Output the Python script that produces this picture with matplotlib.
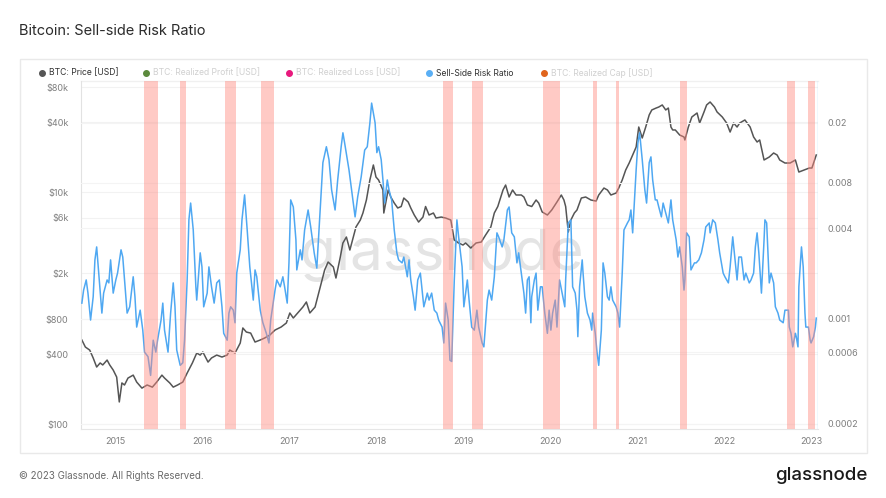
import matplotlib.pyplot as plt
import numpy as np
from matplotlib.patches import Rectangle
from matplotlib.lines import Line2D
from matplotlib.ticker import NullLocator

plt.rcParams['font.family'] = ['Inter', 'DejaVu Sans']

# (decimal year, USD)
price_points = [
    (2014.62, 530), (2014.66, 461), (2014.71, 434), (2014.75, 371), (2014.79, 310), (2014.83, 336),
    (2014.86, 323), (2014.91, 356), (2014.94, 323), (2014.98, 292),
    (2015.02, 254), (2015.05, 155), (2015.08, 226), (2015.11, 217), (2015.15, 249), (2015.21, 264),
    (2015.25, 230), (2015.31, 204), (2015.37, 217), (2015.43, 208), (2015.48, 230), (2015.54, 264),
    (2015.57, 249), (2015.63, 226), (2015.67, 208), (2015.72, 217), (2015.78, 230), (2015.83, 275),
    (2015.89, 336), (2015.94, 409), (2015.98, 393),
    (2016.01, 418), (2016.07, 342), (2016.11, 371), (2016.17, 393), (2016.23, 378), (2016.29, 393),
    (2016.32, 434), (2016.38, 409), (2016.44, 499), (2016.47, 673), (2016.51, 621), (2016.56, 608),
    (2016.61, 509), (2016.67, 530), (2016.72, 551), (2016.78, 585), (2016.84, 646), (2016.91, 686),
    (2016.97, 743),
    (2017.01, 906), (2017.05, 820), (2017.10, 906), (2017.16, 1020), (2017.20, 1127), (2017.24, 906),
    (2017.30, 1020), (2017.36, 1517), (2017.41, 2126), (2017.45, 2492), (2017.51, 2257), (2017.54, 1814),
    (2017.59, 2752), (2017.62, 3635), (2017.66, 4093), (2017.70, 3162), (2017.74, 4093), (2017.77, 4992),
    (2017.82, 5737), (2017.85, 6592), (2017.89, 8534), (2017.93, 12695), (2017.97, 17100),
    (2018.00, 13470), (2018.03, 12695), (2018.08, 10409), (2018.09, 6592), (2018.14, 10409), (2018.17, 9057),
    (2018.21, 8038), (2018.25, 7281), (2018.29, 7500), (2018.32, 8877), (2018.37, 8204), (2018.40, 7281),
    (2018.44, 6336), (2018.49, 5510), (2018.54, 6085), (2018.57, 7500), (2018.61, 6336), (2018.66, 6592),
    (2018.69, 5970), (2018.75, 6085), (2018.80, 5970), (2018.86, 5737), (2018.90, 3857), (2018.95, 3635),
    (2019.00, 3492), (2019.03, 3635), (2019.09, 3290), (2019.15, 3635), (2019.21, 3707), (2019.26, 4259),
    (2019.32, 4992), (2019.36, 6592), (2019.40, 7500), (2019.46, 10409), (2019.49, 11495), (2019.53, 9057),
    (2019.57, 10409), (2019.61, 9425), (2019.67, 9425), (2019.70, 9057), (2019.74, 7727), (2019.79, 7500),
    (2019.84, 8534), (2019.87, 8038), (2019.91, 6730), (2019.97, 6336),
    (2020.02, 6997), (2020.08, 8204), (2020.13, 9425), (2020.16, 8534), (2020.18, 7500), (2020.21, 4519),
    (2020.24, 5737), (2020.28, 6592), (2020.31, 6997), (2020.36, 8877), (2020.41, 9057), (2020.47, 8534),
    (2020.53, 8357), (2020.56, 9425), (2020.62, 10820), (2020.66, 10409), (2020.70, 9425), (2020.76, 9800),
    (2020.79, 10820), (2020.83, 12695), (2020.87, 15484), (2020.91, 17783), (2020.94, 20040), (2020.99, 24430),
    (2021.02, 36330), (2021.06, 29220), (2021.10, 36330), (2021.14, 46152), (2021.17, 50970), (2021.22, 52970),
    (2021.25, 54040), (2021.29, 56290), (2021.33, 50970), (2021.36, 52970), (2021.39, 36330), (2021.41, 34263),
    (2021.44, 34263), (2021.49, 31024), (2021.54, 29800), (2021.55, 28092), (2021.59, 36330), (2021.63, 44330),
    (2021.69, 47990), (2021.72, 39330), (2021.77, 48980), (2021.80, 56290), (2021.84, 59700), (2021.89, 54040),
    (2021.92, 48980), (2021.98, 44330),
    (2022.03, 39330), (2022.07, 32890), (2022.11, 39330), (2022.15, 36330), (2022.18, 39330), (2022.24, 41790),
    (2022.30, 36330), (2022.34, 29800), (2022.38, 26980), (2022.41, 28092), (2022.46, 18885), (2022.52, 20040),
    (2022.57, 21690), (2022.61, 20856), (2022.64, 18885), (2022.70, 17783), (2022.76, 17783), (2022.82, 18885),
    (2022.86, 14870), (2022.92, 15484), (2022.98, 16100),
    (2023.01, 16100), (2023.06, 20856),
]

# (decimal year, ratio)
ssr_points = [
    (2014.62, 0.00127), (2014.64, 0.00155), (2014.67, 0.00181), (2014.69, 0.00148), (2014.72, 0.00098),
    (2014.75, 0.00140), (2014.77, 0.00246), (2014.79, 0.00300), (2014.82, 0.00181), (2014.85, 0.00109),
    (2014.87, 0.00148), (2014.91, 0.00181), (2014.93, 0.00173), (2014.95, 0.00246), (2014.98, 0.00148),
    (2015.01, 0.00181), (2015.03, 0.00201), (2015.07, 0.00287), (2015.09, 0.00257), (2015.11, 0.00181),
    (2015.14, 0.00109), (2015.17, 0.00120), (2015.21, 0.00190), (2015.23, 0.00140), (2015.25, 0.00088),
    (2015.29, 0.00114), (2015.32, 0.00084), (2015.34, 0.00060), (2015.38, 0.00056), (2015.41, 0.00042),
    (2015.44, 0.00072), (2015.47, 0.00060), (2015.49, 0.00072), (2015.53, 0.00098), (2015.55, 0.00127),
    (2015.57, 0.00084), (2015.61, 0.00060), (2015.64, 0.00109), (2015.67, 0.00173), (2015.69, 0.00120),
    (2015.71, 0.00062), (2015.75, 0.00049), (2015.78, 0.00051), (2015.80, 0.00072), (2015.83, 0.00181),
    (2015.85, 0.00454), (2015.87, 0.00587), (2015.90, 0.00389), (2015.93, 0.00163), (2015.94, 0.00133),
    (2015.98, 0.00274),
    (2016.00, 0.00221), (2016.02, 0.00120), (2016.06, 0.00148), (2016.08, 0.00221), (2016.11, 0.00163),
    (2016.14, 0.00127), (2016.17, 0.00173), (2016.20, 0.00181), (2016.23, 0.00120), (2016.25, 0.00080),
    (2016.29, 0.00072), (2016.31, 0.00109), (2016.33, 0.00120), (2016.36, 0.00114), (2016.38, 0.00094),
    (2016.40, 0.00201), (2016.44, 0.00287), (2016.46, 0.00454), (2016.49, 0.00665), (2016.52, 0.00389),
    (2016.55, 0.00221), (2016.59, 0.00133), (2016.61, 0.00211), (2016.63, 0.00190), (2016.67, 0.00114),
    (2016.70, 0.00094), (2016.74, 0.00080), (2016.77, 0.00069), (2016.79, 0.00098), (2016.84, 0.00155),
    (2016.86, 0.00181), (2016.90, 0.00163), (2016.93, 0.00190), (2016.95, 0.00163), (2016.98, 0.00127),
    (2017.00, 0.00235), (2017.02, 0.00616), (2017.05, 0.00553), (2017.08, 0.00334), (2017.09, 0.00211),
    (2017.13, 0.00287), (2017.15, 0.00246), (2017.18, 0.00389), (2017.22, 0.00528), (2017.25, 0.00407),
    (2017.29, 0.00274), (2017.32, 0.00217), (2017.36, 0.00553), (2017.39, 0.0109), (2017.43, 0.0139),
    (2017.46, 0.0114), (2017.49, 0.00718), (2017.53, 0.00528), (2017.56, 0.00836), (2017.60, 0.0139),
    (2017.62, 0.0172), (2017.64, 0.0147), (2017.69, 0.00974), (2017.72, 0.00718), (2017.76, 0.00475),
    (2017.79, 0.00646), (2017.83, 0.00876), (2017.87, 0.0132), (2017.90, 0.0139), (2017.93, 0.0200),
    (2017.95, 0.0271), (2017.99, 0.0200),
    (2018.01, 0.0127), (2018.03, 0.0139), (2018.06, 0.0114), (2018.08, 0.00836), (2018.10, 0.00587),
    (2018.13, 0.00836), (2018.15, 0.00718), (2018.18, 0.00616), (2018.21, 0.00389), (2018.24, 0.00274),
    (2018.26, 0.00246), (2018.30, 0.00235), (2018.32, 0.00257), (2018.36, 0.00190), (2018.38, 0.00246),
    (2018.40, 0.00181), (2018.43, 0.00140), (2018.45, 0.00114), (2018.48, 0.00181), (2018.51, 0.00201),
    (2018.53, 0.00155), (2018.55, 0.00120), (2018.59, 0.00148), (2018.61, 0.00133), (2018.64, 0.00148),
    (2018.67, 0.00114), (2018.70, 0.00109), (2018.72, 0.00098), (2018.76, 0.00088), (2018.78, 0.00069),
    (2018.80, 0.00127), (2018.83, 0.00098), (2018.85, 0.00053), (2018.87, 0.00052), (2018.90, 0.00181),
    (2018.93, 0.00454), (2018.95, 0.00350), (2018.99, 0.00221),
    (2019.01, 0.00120), (2019.05, 0.00181), (2019.07, 0.00133), (2019.10, 0.00088), (2019.13, 0.00084),
    (2019.16, 0.00114), (2019.18, 0.00088), (2019.22, 0.00069), (2019.24, 0.00065), (2019.28, 0.00133),
    (2019.30, 0.00155), (2019.33, 0.00133), (2019.36, 0.00190), (2019.39, 0.00372), (2019.41, 0.00350),
    (2019.45, 0.00300), (2019.47, 0.00334), (2019.51, 0.00528), (2019.53, 0.00553), (2019.56, 0.00372),
    (2019.59, 0.00350), (2019.62, 0.00235), (2019.64, 0.00274), (2019.68, 0.00181), (2019.70, 0.00148),
    (2019.72, 0.00109), (2019.74, 0.00181), (2019.76, 0.00190), (2019.78, 0.00094), (2019.79, 0.00140),
    (2019.82, 0.00181), (2019.84, 0.00201), (2019.86, 0.00114), (2019.89, 0.00163), (2019.91, 0.00163),
    (2019.94, 0.00109), (2019.97, 0.00080), (2019.99, 0.00114),
    (2020.01, 0.00084), (2020.03, 0.00109), (2020.06, 0.00133), (2020.08, 0.00088), (2020.11, 0.00181),
    (2020.14, 0.00148), (2020.17, 0.00120), (2020.18, 0.00181), (2020.21, 0.00433), (2020.24, 0.00454),
    (2020.26, 0.00163), (2020.29, 0.00148), (2020.31, 0.00114), (2020.32, 0.00076), (2020.34, 0.00163),
    (2020.37, 0.00246), (2020.38, 0.00201), (2020.40, 0.00140), (2020.43, 0.00109), (2020.46, 0.00098),
    (2020.48, 0.00084), (2020.49, 0.00109), (2020.52, 0.00080), (2020.54, 0.00060), (2020.56, 0.00049),
    (2020.59, 0.00084), (2020.61, 0.00235), (2020.63, 0.00201), (2020.66, 0.00140), (2020.68, 0.00133),
    (2020.70, 0.00163), (2020.72, 0.00133), (2020.76, 0.00120), (2020.78, 0.00109), (2020.80, 0.00088),
    (2020.83, 0.00201), (2020.85, 0.00389), (2020.89, 0.00433), (2020.91, 0.00454), (2020.93, 0.00528),
    (2020.95, 0.00372), (2020.99, 0.00974),
    (2021.01, 0.0147), (2021.03, 0.0172), (2021.06, 0.0114), (2021.09, 0.00718), (2021.11, 0.00587),
    (2021.14, 0.0109), (2021.16, 0.0119), (2021.18, 0.00836), (2021.21, 0.00616), (2021.23, 0.00616),
    (2021.25, 0.00553), (2021.28, 0.00475), (2021.30, 0.00587), (2021.33, 0.00503), (2021.36, 0.00433),
    (2021.39, 0.00616), (2021.41, 0.00454), (2021.45, 0.00334), (2021.47, 0.00257), (2021.49, 0.00300),
    (2021.52, 0.00221), (2021.54, 0.00155), (2021.55, 0.00181), (2021.57, 0.00372), (2021.60, 0.00350),
    (2021.62, 0.00211), (2021.66, 0.00235), (2021.68, 0.00235), (2021.71, 0.00246), (2021.74, 0.00274),
    (2021.77, 0.00334), (2021.79, 0.00407), (2021.83, 0.00433), (2021.84, 0.00372), (2021.87, 0.00454),
    (2021.90, 0.00433), (2021.93, 0.00334), (2021.95, 0.00274), (2021.99, 0.00201),
    (2022.01, 0.00190), (2022.05, 0.00173), (2022.07, 0.00221), (2022.10, 0.00350), (2022.13, 0.00235),
    (2022.15, 0.00181), (2022.17, 0.00257), (2022.20, 0.00257), (2022.23, 0.00181), (2022.25, 0.00201),
    (2022.29, 0.00173), (2022.31, 0.00181), (2022.34, 0.00201), (2022.36, 0.00300), (2022.38, 0.00372),
    (2022.40, 0.00274), (2022.43, 0.00148), (2022.46, 0.00334), (2022.47, 0.00454), (2022.49, 0.00433),
    (2022.52, 0.00173), (2022.54, 0.00201), (2022.57, 0.00173), (2022.59, 0.00120), (2022.62, 0.00109),
    (2022.64, 0.00098), (2022.68, 0.00094), (2022.70, 0.00114), (2022.74, 0.00114), (2022.75, 0.00088),
    (2022.77, 0.00080), (2022.79, 0.00065), (2022.82, 0.00080), (2022.83, 0.00076), (2022.85, 0.00065),
    (2022.86, 0.00163), (2022.89, 0.00300), (2022.91, 0.00221), (2022.93, 0.00109), (2022.94, 0.00088),
    (2022.97, 0.00088), (2022.99, 0.00072),
    (2023.00, 0.00069), (2023.03, 0.00076), (2023.05, 0.00088), (2023.06, 0.00101),
]

# shaded periods (start, end) in decimal years
red_zones = [
    (2015.33, 2015.50), (2015.75, 2015.82), (2016.26, 2016.39), (2016.68, 2016.83),
    (2018.77, 2018.88), (2019.10, 2019.23), (2019.92, 2020.11), (2020.18, 2020.186),
    (2020.49, 2020.54), (2020.755, 2020.79), (2021.49, 2021.58), (2022.72, 2022.82),
    (2022.97, 2023.04),
]

left_ticks = [100, 400, 800, 2000, 6000, 10000, 40000, 80000]
left_labels = ['\\$100', '\\$400', '\\$800', '\\$2k', '\\$6k', '\\$10k', '\\$40k', '\\$80k']
right_ticks = [0.0002, 0.0006, 0.001, 0.004, 0.008, 0.02]
right_labels = ['0.0002', '0.0006', '0.001', '0.004', '0.008', '0.02']
years = list(range(2015, 2024))

legend_items = [
    ('BTC: Price [USD]', '#555555', '#333333'),
    ('BTC: Realized Profit [USD]', '#5b8a3c', '#d0d0d0'),
    ('BTC: Realized Loss [USD]', '#e8197d', '#d0d0d0'),
    ('Sell-Side Risk Ratio', '#5aaff5', '#333333'),
    ('BTC: Realized Cap [USD]', '#e0641c', '#d0d0d0'),
]
legend_x = [42, 146, 289, 429, 544]

price_t, price_v = np.array(price_points).T
ssr_t, ssr_v = np.array(ssr_points).T

W, H = 886, 498
fig = plt.figure(figsize=(W / 100, H / 100), dpi=100)

# panel frame
fig.patches.append(Rectangle((20 / W, 1 - 453 / H), 847 / W, 394 / H,
                             transform=fig.transFigure, fill=False, ec='#e9e9e9', lw=1))

ax = fig.add_axes([81 / W, 1 - 429 / H, 737 / W, 348 / H])
ax.set_yscale('log')
ax.set_xlim(2014.61, 2023.08)
ax.set_ylim(90.6, 90570)
ax.yaxis.set_minor_locator(NullLocator())
ax.set_yticks(left_ticks)
ax.set_yticklabels(left_labels)
ax.set_xticks(years)
ax.set_xticklabels([str(y) for y in years])
ax.tick_params(length=0, labelsize=6.5, labelcolor='#7f7f7f')
ax.tick_params(axis='y', pad=9)
ax.tick_params(axis='x', pad=6)
ax.grid(axis='y', color='#f2f2f2', lw=0.8, zorder=0)
for s in ['top', 'right']:
    ax.spines[s].set_visible(False)
ax.spines['left'].set_color('#e2e2e2')
ax.spines['bottom'].set_color('#e6e6e6')
ax.axhline(90570, color='#f0f0f0', lw=1, clip_on=False)

ax.text(0.49, 0.5, 'glassnode', transform=ax.transAxes, fontsize=42, color='#e4e4e4',
        ha='center', va='center', zorder=0.5)

ax.plot(price_t, price_v, color='#555555', lw=1.1, zorder=2)

ax2 = ax.twinx()
ax2.set_yscale('log')
ax2.set_ylim(0.000185, 0.038)
ax2.yaxis.set_minor_locator(NullLocator())
ax2.set_yticks(right_ticks)
ax2.set_yticklabels(right_labels)
ax2.tick_params(length=0, labelsize=6.5, labelcolor='#7f7f7f', pad=7)
for s in ax2.spines.values():
    s.set_visible(False)
for t in right_ticks:
    ax2.axhline(t, color='#f4f4f4', lw=0.8, zorder=0)

ax2.plot(ssr_t, ssr_v, color='#4fa8f2', lw=1.1, zorder=2)
for a, b in red_zones:
    ax2.axvspan(a, b, color='#ff8a80', alpha=0.45, lw=0, zorder=3)
ax2.axvline(2023.075, color='#b5dcf7', lw=1, zorder=3)

# title, legend, footer
fig.text(19 / W, 1 - 31 / H, 'Bitcoin: Sell-side Risk Ratio', fontsize=10.5, color='#2b2b2b',
         ha='left', va='center')
for (label, dot, tc), x in zip(legend_items, legend_x):
    fig.add_artist(Line2D([x / W], [1 - 73 / H], marker='o', ms=4, color=dot, mec=dot,
                          transform=fig.transFigure))
    fig.text((x + 7) / W, 1 - 73 / H, label, fontsize=6.2, color=tc, ha='left', va='center')

fig.text(19 / W, 1 - 476 / H, '© 2023 Glassnode. All Rights Reserved.', fontsize=7,
         color='#6a6a6a', ha='left', va='center')
fig.text(867 / W, 1 - 475 / H, 'glassnode', fontsize=13.5, color='#1a1a1a', ha='right',
         va='center', fontweight='medium')

fig.savefig('out.png', dpi=100)
